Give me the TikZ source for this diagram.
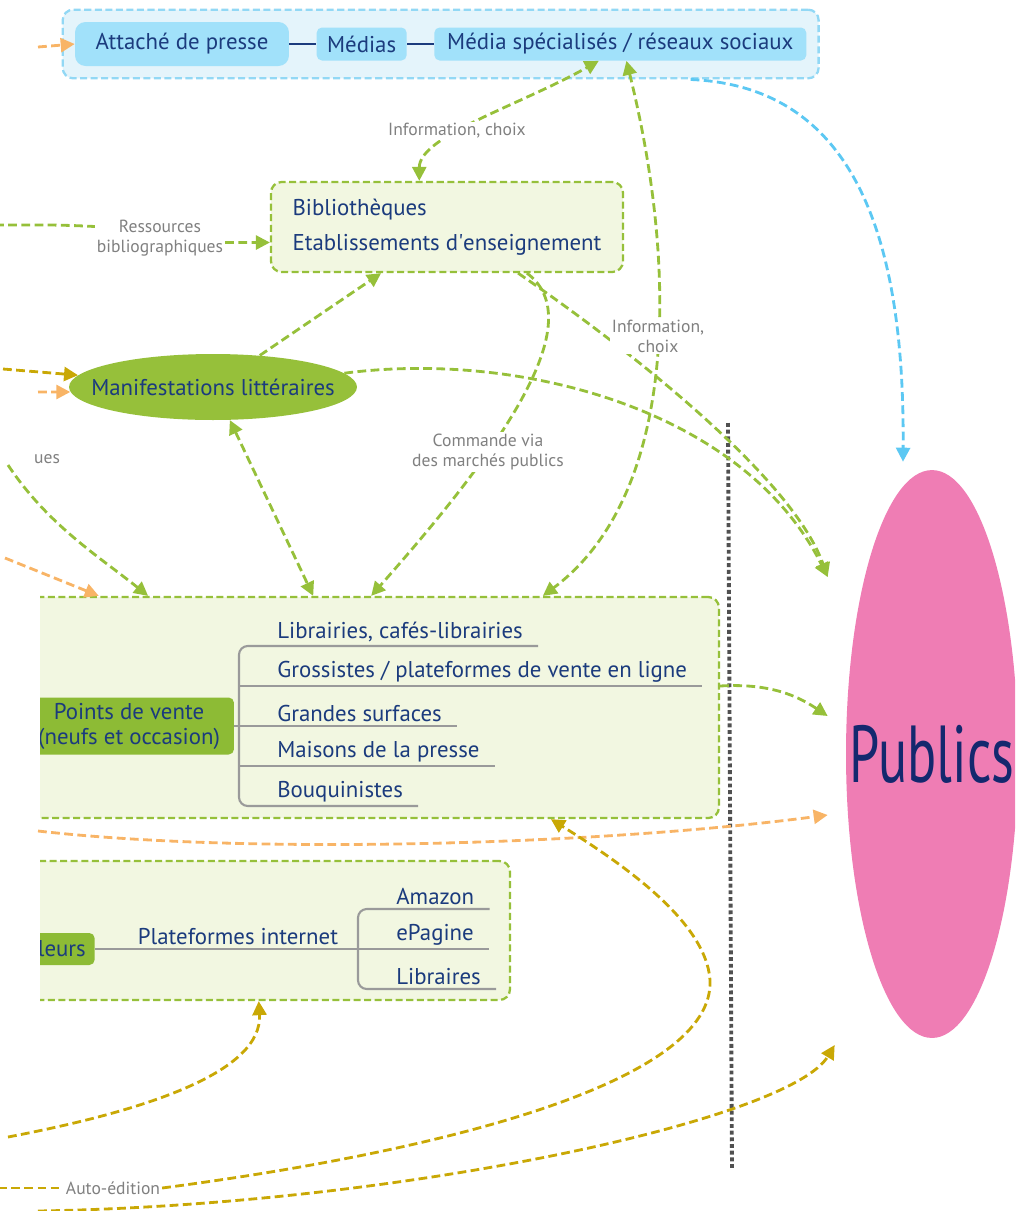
\documentclass[tikz,border=0pt]{standalone}
\usepackage{fontspec}
\setmainfont{PT Sans}
\usetikzlibrary{positioning,arrows.meta,fit,backgrounds,calc,shapes.geometric}

\definecolor{navy}{HTML}{1B3B7D}
\definecolor{deepnavy}{HTML}{14286E}
\definecolor{leaf}{HTML}{96C03A}
\definecolor{leafdark}{HTML}{8DBB35}
\definecolor{paleleaf}{HTML}{F2F7E1}
\definecolor{sky}{HTML}{5CC8F3}
\definecolor{skybox}{HTML}{A1E1FA}
\definecolor{skypale}{HTML}{E4F4FB}
\definecolor{skyedge}{HTML}{92D8F5}
\definecolor{apricot}{HTML}{F8B466}
\definecolor{ochre}{HTML}{C9A805}
\definecolor{rose}{HTML}{EF7DB4}
\definecolor{twig}{HTML}{9A9A9A}
\definecolor{lblgrey}{HTML}{808080}
\definecolor{sepgrey}{HTML}{505050}

\begin{document}
\begin{tikzpicture}[
        x=0.02cm, y=-0.02cm,
        node distance=0.54cm,
        font=\fontsize{13}{14.2}\selectfont,
        media/.style={fill=skybox, rounded corners=3pt, text=navy, minimum height=0.66cm, inner sep=0pt},
        zone/.style={draw=leaf, fill=paleleaf, line width=1.3pt, dash pattern=on 4pt off 2pt, rounded corners=6pt},
        head/.style={fill=leafdark, rounded corners=3pt, text=navy, align=center, inner sep=0pt},
        item/.style={text=navy, inner xsep=0.3cm, inner ysep=2pt, anchor=south west},
        twigline/.style={draw=twig, line width=1.2pt, rounded corners=5pt},
        plain/.style={line width=1.6pt, dash pattern=on 5pt off 2.5pt},
        flow/.style={plain, -{Triangle[length=2.8mm,width=2.8mm]}},
        both/.style={plain, {Triangle[length=2.8mm,width=2.8mm]}-{Triangle[length=2.8mm,width=2.8mm]}},
        lbl/.style={text=lblgrey, fill=white, align=center, font=\fontsize{10}{11.3}\selectfont, inner sep=1pt},
        sepline/.style={draw=sepgrey, line width=2.2pt, dash pattern=on 2.2pt off 1.6pt}
    ]
        \useasboundingbox (0,0) rectangle (1015,1211);
        \clip (0,0) rectangle (1015,1211);

        \node[media, minimum width=4.28cm, minimum height=0.88cm, rounded corners=6pt] (attache) at (182,44) {Attaché de presse};
        \node[media, minimum width=1.8cm, right=of attache] (medias) {Médias};
        \node[media, minimum width=7.44cm, right=of medias] (mediaspe) {Média spécialisés / réseaux sociaux};
        \begin{scope}[on background layer]
            \node[fit=(attache)(medias)(mediaspe), inner sep=0.24cm, draw=skyedge, fill=skypale, line width=1.3pt, dash pattern=on 4pt off 2pt, rounded corners=6pt] (bar) {};
        \end{scope}
        \draw[navy, line width=1.2pt] (attache) -- (medias);
        \draw[navy, line width=1.2pt] (medias) -- (mediaspe);

        \node[zone, text=navy, align=left, minimum width=7.04cm, minimum height=1.8cm] (biblio) at (447,227) {Bibliothèques\\[6pt]Etablissements d\textquotesingle enseignement};
        \node[ellipse, fill=leaf, text=navy, minimum width=5.76cm, minimum height=1.32cm, inner sep=0pt] (manif) at (213,387) {\makebox[0pt]{Manifestations littéraires}};

        \begin{scope}
            \clip (40,0) rectangle (1015,1211);
            \node[zone, minimum width=14.78cm, minimum height=4.42cm] (pdvbox) at (349.5,707.5) {};
            \node[head, minimum width=4.2cm, minimum height=1.14cm] (pdv) at (129,726) {Points de vente\\(neufs et occasion)};
            \node[zone, minimum width=10.6cm, minimum height=2.78cm] (platbox) at (245,930.5) {};
            \node[head, text width=2cm, align=right, inner xsep=5pt, minimum height=0.64cm, anchor=east] (leurs) at (95,949) {leurs};
        \end{scope}

        \node[item] (lib) at (262,646) {Librairies, cafés-librairies};
        \node[item] (gross) at (262,686) {Grossistes / plateformes de vente en ligne};
        \node[item] (grandes) at (262,726) {Grandes surfaces};
        \node[item] (maisons) at (262,766) {Maisons de la presse};
        \node[item] (bouq) at (262,806) {Bouquinistes};
        \coordinate (fork) at (239,726);
        \draw[twigline] (lib.south east) -- (lib.south -| fork) -- (bouq.south -| fork) -- (bouq.south east);
        \draw[twigline] (pdv.east) -- (grandes.south east);
        \draw[twigline] (gross.south -| fork) -- (gross.south east);
        \draw[twigline] (maisons.south -| fork) -- (maisons.south east);

        \node[item, anchor=south] (platf) at (238,949) {Plateformes internet};
        \node[item] (amazon) at (381,909) {Amazon};
        \node[item] (epag) at (381,949) {ePagine};
        \node[item] (libr) at (381,989) {Libraires};
        \coordinate (fork2) at (358,949);
        \draw[twigline] (leurs.east) -- (epag.south east);
        \draw[twigline] (amazon.south east) -- (amazon.south -| fork2) -- (libr.south -| fork2) -- (libr.south east);

        \node[ellipse, fill=rose, text=deepnavy, minimum width=3.44cm, minimum height=11.36cm, inner sep=0pt] (publics) at (932,754) {\makebox[0pt]{\scalebox{0.67}[1]{\fontsize{46}{46}\selectfont Publics}}};

        \coordinate (septop) at (728,423);
        \coordinate (sepbot) at (732,1170);
        \draw[sepline] (septop) -- (sepbot);

        \draw[flow, sky] ($(bar.south)+(250,0)$) .. controls +(160,7) and +(2,-232) .. ($(publics.north)+(-29,-8)$);

        \draw[both, leaf] (biblio.121) .. controls +(0,-45) and +(-80,45) .. (mediaspe.-142);
        \draw[both, leaf] (mediaspe.-70) .. controls +(55,223) and +(130,-97) .. (pdvbox.30);
        \node[lbl] (reslbl) at (160,238) {Ressources\\bibliographiques};
        \coordinate (resin) at (-5,225);
        \draw[plain, leaf] (resin) .. controls +(50,0) and +(-40,-2) .. (reslbl.170);
        \draw[flow, leaf] (reslbl.-4) -- (biblio.185);
        \draw[flow, leaf] (manif.34) -- (biblio.215);
        \draw[flow, leaf] (biblio.-33) .. controls +(85,58) and +(-38,-107) .. ($(publics.west)+(-18,-177)$);
        \draw[flow, leaf] (manif.6) .. controls +(176,-23) and +(-83,-167) .. ($(publics.west)+(-18,-177)$);
        \draw[flow, leaf] (biblio.-30) .. controls +(65,48) and +(130,-147) .. (pdvbox.79.5);
        \draw[both, leaf] (manif.-63) -- (pdvbox.108.7);
        \coordinate (greenin) at (8,465);
        \draw[flow, leaf] (greenin) .. controls +(40,60) and +(-50,-40) .. (pdvbox.151);
        \draw[flow, leaf] (gross.south -| pdvbox.east) .. controls +(50,-3) and +(-30,-20) .. ($(publics.west)+(-18,-38)$);

        \coordinate (orA) at (38,47);
        \coordinate (orB) at (38,392);
        \coordinate (orC) at (5,558);
        \coordinate (orD) at (38,831);
        \draw[flow, apricot] (orA) -- (attache.west);
        \draw[flow, apricot] (orB) -- (manif.182);
        \draw[flow, apricot] (orC) -- (pdvbox.156.3);
        \draw[flow, apricot] (orD) .. controls +(212,24) and +(-228,30) .. ($(publics.west)+(-18,61)$);

        \coordinate (olA) at (3,369);
        \coordinate (olB) at (8,1137);
        \coordinate (olC) at (-2,1188);
        \coordinate (olD) at (38,1211);
        \node[lbl] (aelbl) at (113,1188) {Auto-édition};
        \draw[flow, ochre] (olA) -- (manif.175);
        \draw[flow, ochre] (olB) .. controls +(142,-27) and +(4,70) .. (platbox.-79.4);
        \draw[plain, ochre] (olC) -- (aelbl.west);
        \draw[flow, ochre] (aelbl.east) .. controls +(290,-38) and +(5,100) .. (710,980) .. controls +(-4,-60) and +(67,42) .. (pdvbox.-29.5);
        \draw[flow, ochre] (olD) .. controls +(362,-6) and +(-45,75) .. ($(publics.west)+(-11,291)$);

        \node[lbl] (info1lbl) at (457,131) {Information, choix};
        \node[lbl] (info2lbl) at (658,336) {Information,\\choix};
        \node[lbl] (cmdlbl) at (488,452) {Commande via\\des marchés publics};
        \node[lbl, fill=none] (ueslbl) at (47,459) {ues};
    \end{tikzpicture}
\end{document}
